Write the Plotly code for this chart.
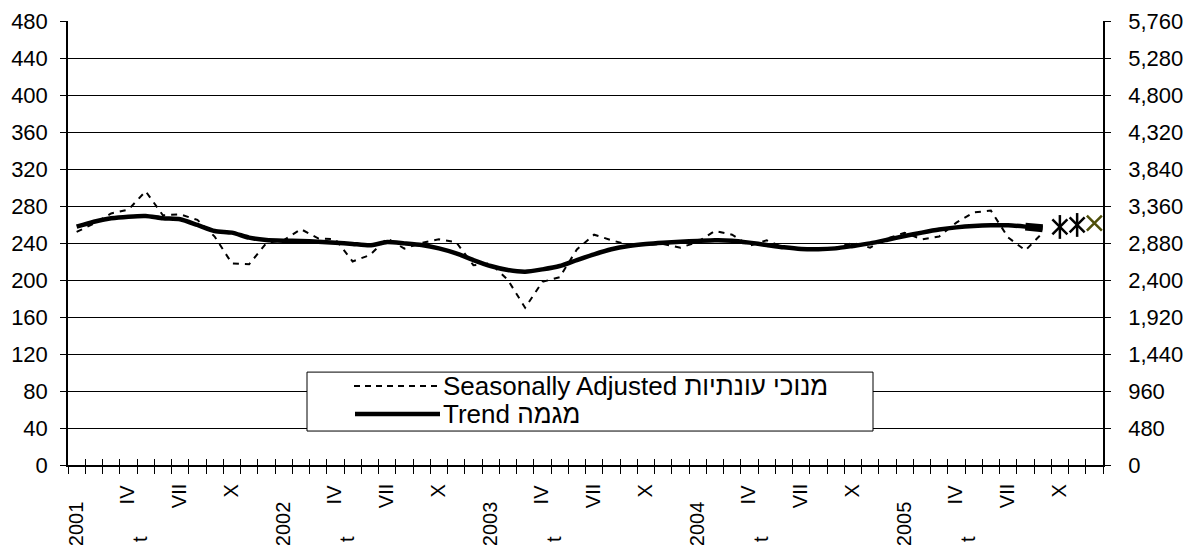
import plotly.graph_objects as go

# ---------------- data ----------------
years = ["2001", "2002", "2003", "2004", "2005"]
month_marks = ["", "", "", "IV", "", "", "VII", "", "", "X", "", ""]
categories = [f"{y}-{m:02d}" for y in years for m in range(1, 13)]

seasonally_adjusted = [
    252, 261, 272, 276, 296, 270, 271, 265, 247, 218, 217, 240,
    243, 255, 245, 244, 220, 227, 245, 234, 240, 244, 241, 216,
    218, 200, 170, 198, 203, 233, 249, 243, 238, 238, 239, 235,
    241, 253, 249, 237, 243, 235, 233, 233, 235, 240, 235, 245,
    251, 244, 247, 262, 273, 275, 246, 232, 251,
]
trend = [
    257.6, 263.0, 266.7, 268.5, 269.2, 266.7, 265.6, 259.5, 253.0, 251.2, 245.8, 243.2,
    242.5, 242.2, 241.4, 240.4, 239.0, 237.5, 241.0, 239.6, 237.8, 234.2, 228.8, 221.6,
    215.1, 210.8, 209.0, 211.5, 215.1, 221.6, 227.8, 233.2, 236.8, 239.0, 240.4, 241.4,
    242.2, 242.9, 242.5, 240.4, 237.8, 235.3, 233.5, 233.2, 234.2, 236.8, 239.6, 243.5,
    247.6, 251.2, 254.5, 256.9, 258.4, 259.1, 259.1, 257.7, 255.9,
]
trend_bold_start = 55           # last trend months drawn heavier
right_axis_points = [3088, 3114, 3139]   # three markers on right-hand scale
right_axis_colors = ["#000000", "#000000", "#4f4f0a"]
right_axis_star = [True, True, False]

left_ticks = list(range(0, 481, 40))
right_ticks = list(range(0, 5761, 480))

legend_sa = "Seasonally Adjusted מנוכי עונתיות"
legend_trend = "Trend מגמה"

FONT = "Liberation Sans, Arial, sans-serif"

# page offset of the plot div (default body margin)
OFF = 8
PAGE_W, PAGE_H = 1195, 545
FIG_W, FIG_H = PAGE_W - OFF, PAGE_H - OFF
# wanted plot-area edges in page pixels
W0, W1 = 68, 1103
H0, H1 = 20.5, 465

# ---------------- figure ----------------
fig = go.Figure()

n_sa = len(seasonally_adjusted)
fig.add_trace(go.Scatter(
    x=categories[:n_sa], y=seasonally_adjusted, mode="lines",
    line=dict(color="black", width=2, dash="6px,6px"),
    showlegend=False, hoverinfo="skip"))

n_tr = len(trend)
fig.add_trace(go.Scatter(
    x=categories[:n_tr], y=trend, mode="lines",
    line=dict(color="black", width=4.5, shape="spline", smoothing=0.6),
    showlegend=False, hoverinfo="skip"))

fig.add_trace(go.Scatter(
    x=categories[trend_bold_start:n_tr], y=trend[trend_bold_start:n_tr], mode="lines",
    line=dict(color="black", width=8),
    showlegend=False, hoverinfo="skip"))

start = n_tr
xs = categories[start:start + len(right_axis_points)]
fig.add_trace(go.Scatter(
    x=xs, y=right_axis_points, yaxis="y2", mode="markers",
    marker=dict(symbol="x-thin-open", size=15, color=right_axis_colors,
                line=dict(width=2.5, color=right_axis_colors)),
    showlegend=False, hoverinfo="skip"))
star_x = [x for x, s in zip(xs, right_axis_star) if s]
star_y = [y for y, s in zip(right_axis_points, right_axis_star) if s]
star_c = [c for c, s in zip(right_axis_colors, right_axis_star) if s]
fig.add_trace(go.Scatter(
    x=star_x, y=star_y, yaxis="y2", mode="markers",
    marker=dict(symbol="line-ns-open", size=17, color=star_c,
                line=dict(width=2.5, color=star_c)),
    showlegend=False, hoverinfo="skip"))

# dummy trace for overlay axis (inside ticks)
fig.add_trace(go.Scatter(x=[None], y=[None], xaxis="x2", showlegend=False, hoverinfo="skip"))

# ---------------- x labels ----------------
annotations = []
for yi, yr in enumerate(years):
    for m, mark in enumerate(month_marks):
        idx = yi * 12 + m
        if m == 0:
            annotations.append(dict(
                x=categories[idx], y=0, xref="x", yref="paper", text=yr,
                textangle=-90, showarrow=False, xanchor="center", yanchor="top",
                yshift=-34, xshift=-1, font=dict(family=FONT, size=20, color="black")))
        elif mark:
            annotations.append(dict(
                x=categories[idx], y=0, xref="x", yref="paper", text=mark,
                textangle=-90, showarrow=False, xanchor="center", yanchor="top",
                yshift=-17, xshift=-1, font=dict(family=FONT, size=20, color="black")))
    # small clipped mark under April
    annotations.append(dict(
        x=yi * 12 + 3.67, y=0, xref="x", yref="paper", text="t",
        textangle=-90, showarrow=False, xanchor="center", yanchor="top",
        yshift=-69, font=dict(family=FONT, size=20, color="black")))

# ---------------- manual legend ----------------


def px(xp):
    return (xp - W0) / (W1 - W0)


def py(yp):
    return (H1 - yp) / (H1 - H0)


shapes = [
    dict(type="rect", xref="paper", yref="paper", x0=px(307), x1=px(873),
         y0=py(431), y1=py(372), line=dict(color="black", width=1),
         fillcolor="white", layer="above"),
    dict(type="line", xref="paper", yref="paper", x0=px(354), x1=px(440),
         y0=py(386), y1=py(386), line=dict(color="black", width=2, dash="6px,5px"),
         layer="above"),
    dict(type="line", xref="paper", yref="paper", x0=px(355), x1=px(440),
         y0=py(414), y1=py(414), line=dict(color="black", width=4.5), layer="above"),
]
annotations.append(dict(
    x=px(441), y=py(386), xref="paper", yref="paper", text=legend_sa,
    showarrow=False, xanchor="left", yanchor="middle",
    font=dict(family=FONT, size=26, color="black")))
annotations.append(dict(
    x=px(441), y=py(414), xref="paper", yref="paper", text=legend_trend,
    showarrow=False, xanchor="left", yanchor="middle",
    font=dict(family=FONT, size=26, color="black")))

fig.update_layout(
    width=FIG_W, height=FIG_H,
    margin=dict(l=W0 - OFF, r=PAGE_W - W1, t=H0 - OFF, b=PAGE_H - H1, pad=0,
                autoexpand=False),
    paper_bgcolor="white", plot_bgcolor="white",
    font=dict(family=FONT, size=20, color="black"),
    xaxis=dict(
        type="category", categoryorder="array", categoryarray=categories,
        range=[-0.5, len(categories) - 0.5], tickson="boundaries",
        ticks="outside", ticklen=7, tickcolor="black", tickwidth=1,
        showticklabels=False, showgrid=False, zeroline=False, automargin=False,
        showline=True, linecolor="black", linewidth=1.5),
    xaxis2=dict(
        type="linear", overlaying="x", anchor="y", side="bottom",
        range=[-0.5, len(categories) - 0.5], automargin=False,
        tickmode="array", tickvals=[i - 0.5 for i in range(len(categories) + 1)],
        ticks="inside", ticklen=6, tickcolor="black", tickwidth=1,
        showticklabels=False, showgrid=False, zeroline=False, showline=False),
    yaxis=dict(
        range=[0, 480], tickmode="array", tickvals=left_ticks, automargin=False,
        ticks="outside", ticklen=6, tickcolor="black",
        showgrid=True, gridcolor="black", gridwidth=1,
        zeroline=False, showline=True, linecolor="black", linewidth=1.5,
        tickfont=dict(family=FONT, size=22, color="black"), ticklabelstandoff=8),
    yaxis2=dict(
        range=[0, 5760], tickmode="array", tickvals=right_ticks, automargin=False,
        tickformat=",", overlaying="y", side="right", anchor="x",
        ticks="outside", ticklen=6, tickcolor="black",
        showgrid=False, zeroline=False, showline=True, linecolor="black", linewidth=1.5,
        tickfont=dict(family=FONT, size=22, color="black"), ticklabelstandoff=13),
    shapes=shapes,
    annotations=annotations,
)

fig.write_html("out.html")
